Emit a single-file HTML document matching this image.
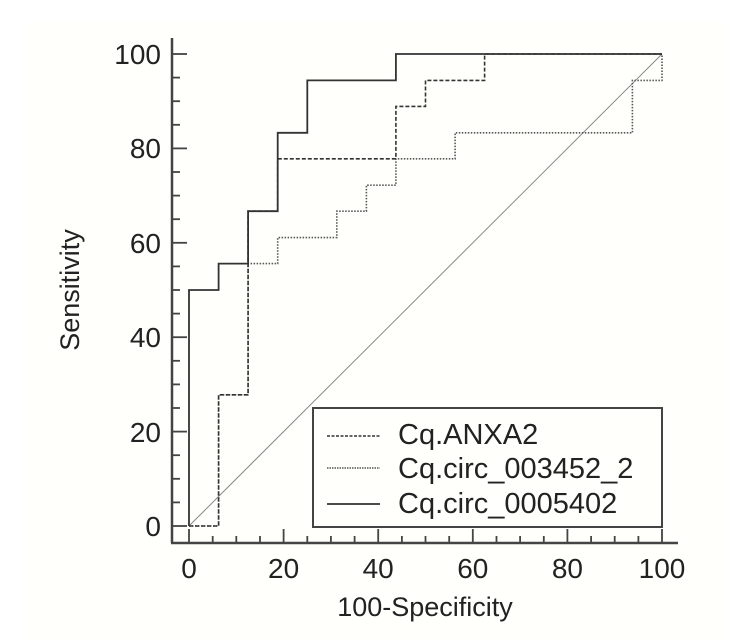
<!DOCTYPE html>
<html><head><style>
html,body{margin:0;padding:0;background:#fff;}
svg{display:block;}
text{font-family:"Liberation Sans",Arial,sans-serif;fill:#222;}
</style></head><body>
<svg width="743" height="640" viewBox="0 0 743 640" xmlns="http://www.w3.org/2000/svg">
<rect x="28" y="22" width="700" height="618" fill="#fffffb"/>
<line x1="189" y1="526" x2="662" y2="54" stroke="#888" stroke-width="1"/>
<polyline fill="none" stroke="#555" stroke-width="1.6" stroke-dasharray="1.5,1.5" points="189,526 218.6,526 218.6,394.8 248.1,394.8 248.1,263.6 277.7,263.6 277.7,237.6 336.8,237.6 336.8,211.2 366.4,211.2 366.4,185.2 395.9,185.2 395.9,158.8 455.1,158.8 455.1,132.8 632.4,132.8 632.4,80.4 662,80.4 662,54"/>
<polyline fill="none" stroke="#333" stroke-width="1.6" stroke-dasharray="4,2" points="189,526 218.6,526 218.6,394.8 248.1,394.8 248.1,211.2 277.7,211.2 277.7,158.8 395.9,158.8 395.9,106.4 425.5,106.4 425.5,80.4 484.6,80.4 484.6,54 662,54"/>
<polyline fill="none" stroke="#333" stroke-width="1.8" points="189,526 189,290 218.6,290 218.6,263.6 248.1,263.6 248.1,211.2 277.7,211.2 277.7,132.8 307.3,132.8 307.3,80.4 395.9,80.4 395.9,54 662,54"/>
<g stroke="#444" stroke-width="2.5" fill="none">
<line x1="172" y1="38" x2="172" y2="543"/>
<line x1="171" y1="543" x2="678" y2="543"/>
</g>
<g stroke="#444" stroke-width="1.8">
<line x1="172" y1="526" x2="187" y2="526"/><line x1="172" y1="431.6" x2="187" y2="431.6"/><line x1="172" y1="337.2" x2="187" y2="337.2"/><line x1="172" y1="242.8" x2="187" y2="242.8"/><line x1="172" y1="148.4" x2="187" y2="148.4"/><line x1="172" y1="54" x2="187" y2="54"/>
<line x1="172" y1="502.4" x2="180" y2="502.4"/><line x1="172" y1="478.8" x2="180" y2="478.8"/><line x1="172" y1="455.2" x2="180" y2="455.2"/>
<line x1="172" y1="408" x2="180" y2="408"/><line x1="172" y1="384.4" x2="180" y2="384.4"/><line x1="172" y1="360.8" x2="180" y2="360.8"/>
<line x1="172" y1="313.6" x2="180" y2="313.6"/><line x1="172" y1="290" x2="180" y2="290"/><line x1="172" y1="266.4" x2="180" y2="266.4"/>
<line x1="172" y1="219.2" x2="180" y2="219.2"/><line x1="172" y1="195.6" x2="180" y2="195.6"/><line x1="172" y1="172" x2="180" y2="172"/>
<line x1="172" y1="124.8" x2="180" y2="124.8"/><line x1="172" y1="101.2" x2="180" y2="101.2"/><line x1="172" y1="77.6" x2="180" y2="77.6"/>
<line x1="189" y1="543" x2="189" y2="529"/><line x1="283.6" y1="543" x2="283.6" y2="529"/><line x1="378.2" y1="543" x2="378.2" y2="529"/><line x1="472.8" y1="543" x2="472.8" y2="529"/><line x1="567.4" y1="543" x2="567.4" y2="529"/><line x1="662" y1="543" x2="662" y2="529"/>
<line x1="212.7" y1="543" x2="212.7" y2="536"/><line x1="236.3" y1="543" x2="236.3" y2="536"/><line x1="260" y1="543" x2="260" y2="536"/>
<line x1="307.3" y1="543" x2="307.3" y2="536"/><line x1="330.9" y1="543" x2="330.9" y2="536"/><line x1="354.6" y1="543" x2="354.6" y2="536"/>
<line x1="401.9" y1="543" x2="401.9" y2="536"/><line x1="425.5" y1="543" x2="425.5" y2="536"/><line x1="449.2" y1="543" x2="449.2" y2="536"/>
<line x1="496.5" y1="543" x2="496.5" y2="536"/><line x1="520.1" y1="543" x2="520.1" y2="536"/><line x1="543.8" y1="543" x2="543.8" y2="536"/>
<line x1="591.1" y1="543" x2="591.1" y2="536"/><line x1="614.7" y1="543" x2="614.7" y2="536"/><line x1="638.4" y1="543" x2="638.4" y2="536"/>
</g>
<g font-size="28" text-anchor="end">
<text x="161" y="536">0</text><text x="161" y="442">20</text><text x="161" y="347">40</text><text x="161" y="253">60</text><text x="161" y="158">80</text><text x="161" y="64">100</text>
</g>
<g font-size="28" text-anchor="middle">
<text x="189" y="578">0</text><text x="283.6" y="578">20</text><text x="378.2" y="578">40</text><text x="472.8" y="578">60</text><text x="567.4" y="578">80</text><text x="662" y="578">100</text>
</g>
<text x="425" y="616" font-size="27" text-anchor="middle">100-Specificity</text>
<text transform="translate(79,290) rotate(-90)" font-size="27" text-anchor="middle">Sensitivity</text>
<rect x="313" y="408" width="349" height="119" fill="#fffffb" stroke="#444" stroke-width="2"/>
<line x1="327" y1="436" x2="380" y2="436" stroke="#333" stroke-width="1.6" stroke-dasharray="3,1.5"/>
<line x1="327" y1="468" x2="380" y2="468" stroke="#555" stroke-width="1.6" stroke-dasharray="1.5,1"/>
<line x1="327" y1="504" x2="380" y2="504" stroke="#333" stroke-width="1.8"/>
<g font-size="29">
<text x="398" y="444">Cq.ANXA2</text>
<text x="398" y="478">Cq.circ_003452_2</text>
<text x="398" y="513">Cq.circ_0005402</text>
</g>
</svg>
</body></html>
